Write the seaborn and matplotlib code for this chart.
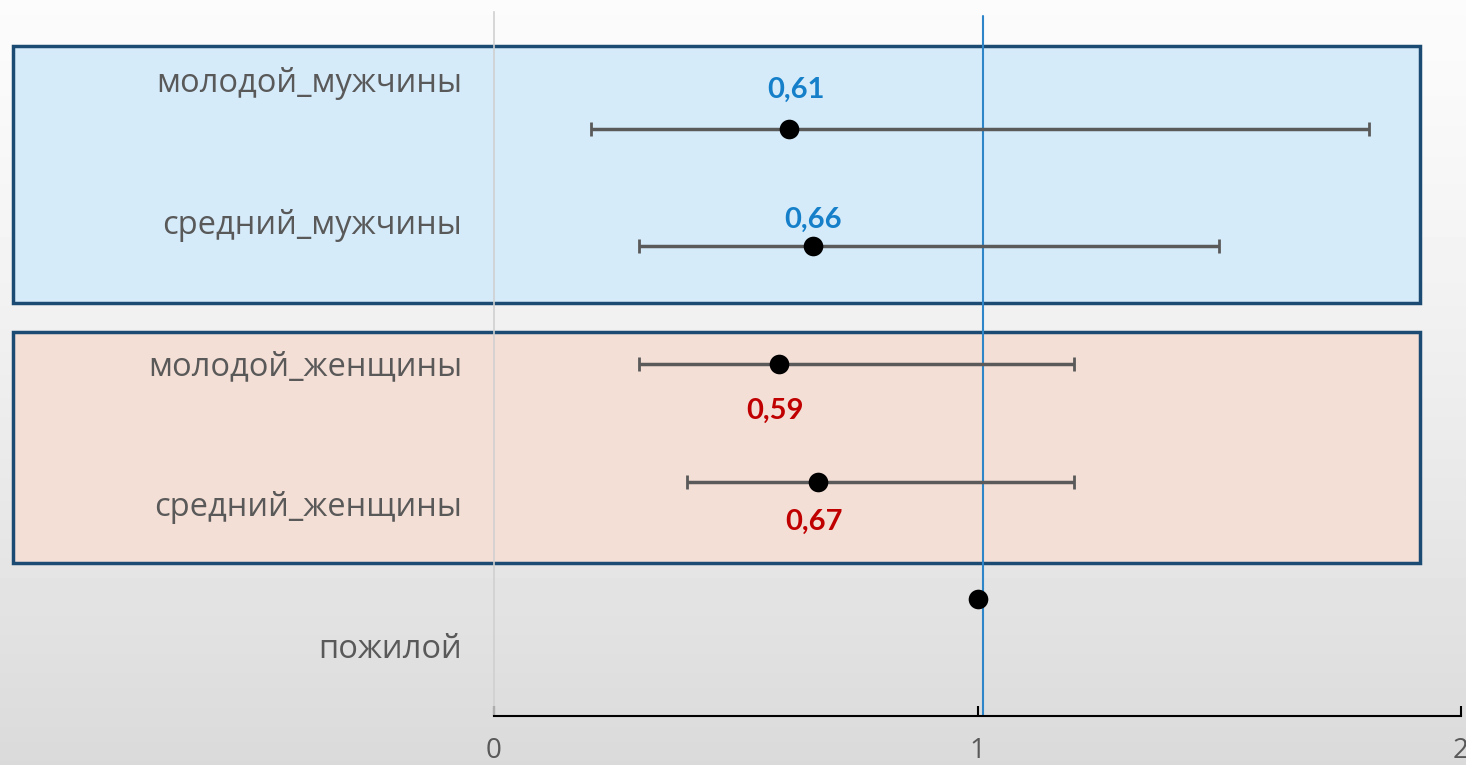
import numpy as np
import pandas as pd
import matplotlib
matplotlib.use("Agg")
import matplotlib.pyplot as plt
from matplotlib.patches import Rectangle
import seaborn as sns

# ---- data ----
categories = ["молодой_мужчины", "средний_мужчины", "молодой_женщины", "средний_женщины", "пожилой"]
odds_ratio = [0.61, 0.66, 0.59, 0.67, 1.00]
ci_low = [0.20, 0.30, 0.30, 0.40, np.nan]
ci_high = [1.81, 1.50, 1.20, 1.20, np.nan]
value_labels = ["0,61", "0,66", "0,59", "0,67", ""]
label_colors = ["#1580C9", "#1580C9", "#C00000", "#C00000", "#000000"]
x_ticks = [0, 1, 2]
x_tick_labels = ["0", "1", "2"]
ref_line = 1.012

df = pd.DataFrame({"cat": categories, "or": odds_ratio, "lo": ci_low, "hi": ci_high})

sns.set_theme(style="white")
plt.rcParams["font.family"] = ["Open Sans", "DejaVu Sans"]

W, H, DPI = 14.66, 7.65, 100
fig = plt.figure(figsize=(W, H), dpi=DPI)

# background gradient
bg = fig.add_axes([0, 0, 1, 1], zorder=-10)
yy, xx = np.mgrid[0:1:200j, 0:1:200j]
grad = 0.985 - 0.13 * (yy ** 1.3) + 0.0 * xx
bg.imshow(grad, cmap="gray", vmin=0, vmax=1, aspect="auto", extent=[0, 1, 0, 1], origin="upper")
bg.axis("off")

ax = fig.add_axes([494 / 1466, (765 - 716) / 765, (1461 - 494) / 1466, (716 - 12) / 765])
ax.patch.set_alpha(0)

# category boxes (layout)
ax.add_patch(Rectangle((-0.995, -0.705), 2.91, 2.19, facecolor="#D6EBFA", edgecolor="#1B4A72",
                       lw=2.5, clip_on=False, zorder=0.5))
ax.add_patch(Rectangle((-0.995, 1.724), 2.91, 1.97, facecolor="#F4DFD6", edgecolor="#1B4A72",
                       lw=2.5, clip_on=False, zorder=0.5))

ax.axvline(ref_line, color="#2E86C9", lw=1.5, zorder=1.5, ymin=0, ymax=0.995)

ypos = np.arange(len(categories))
err = np.array([df["or"] - df["lo"], df["hi"] - df["or"]])
ax.errorbar(df["or"], ypos, xerr=err, fmt="none", ecolor="#5A5A5A", elinewidth=2.5,
            capsize=5, capthick=2, zorder=2)
sns.scatterplot(data=df, x="or", y=ypos, ax=ax, color="black", s=200, edgecolor="black",
                linewidth=0, zorder=3, legend=False)

offsets = [(5, 28), (0, 19), (-3, -34), (-3, -29)]
for i, (lab, col) in enumerate(zip(value_labels, label_colors)):
    if not lab:
        continue
    ax.annotate(lab, (odds_ratio[i], ypos[i]), xytext=offsets[i], textcoords="offset points",
                ha="center", va="center", color=col, fontsize=21, fontweight="bold",
                family=["Lato", "DejaVu Sans"])

ax.set_xlim(0, 2)
ax.set_ylim(4.99, -0.99)
ax.set_xticks(x_ticks)
ax.set_xticklabels(x_tick_labels)
ax.set_yticks([])
ax.set_xlabel("")
ax.set_ylabel("")
ax.tick_params(axis="x", bottom=True, direction="in", length=7, width=1.5, color="black", pad=15,
               labelsize=20, labelcolor="#595959")
for s in ["top", "right"]:
    ax.spines[s].set_visible(False)
ax.spines["left"].set_color("#D0D0D0")
ax.spines["left"].set_linewidth(1.2)
ax.spines["left"].set_zorder(1.2)
ax.spines["bottom"].set_color("black")
ax.spines["bottom"].set_linewidth(1.5)

# category labels on a secondary scale
ax2 = ax.twinx()
ax2.set_ylim(4.50, -0.48)
ax2.set_yticks(ypos)
ax2.set_yticklabels(categories)
ax2.yaxis.tick_left()
ax2.tick_params(axis="y", length=0, pad=23, labelsize=23.5, labelcolor="#595959")
for s in ax2.spines.values():
    s.set_visible(False)
ax2.grid(False)

fig.savefig("out.png", dpi=DPI)
